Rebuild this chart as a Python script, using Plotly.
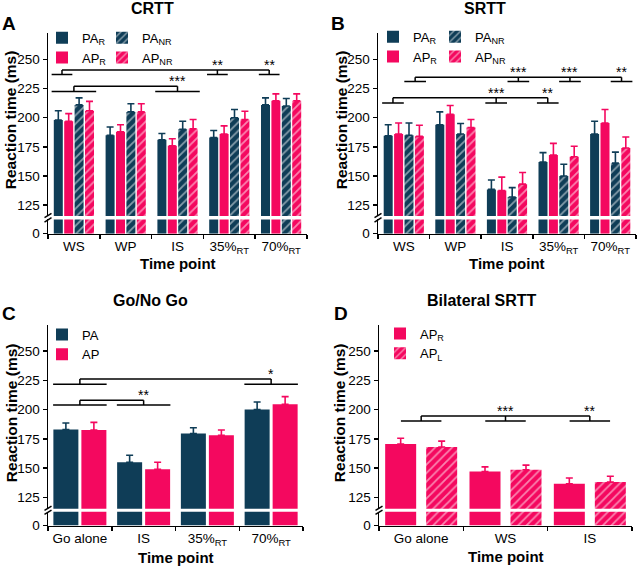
import plotly.graph_objects as go

W, H = 640, 573
FONT = "Liberation Sans, Arial, Helvetica, sans-serif"
NAVY = "#0f3d57"
PINK = "#f4085f"

# ---------------- data ----------------
# Panel A: CRTT
A_categories = ["WS", "WP", "IS", "35%<sub>RT</sub>", "70%<sub>RT</sub>"]
A_PA_R = [198, 185, 181, 183, 211]
A_PA_R_err = [8, 7, 5.5, 6, 6]
A_AP_R = [197, 188, 176, 186, 214.5]
A_AP_R_err = [6.5, 6, 6, 7, 6]
A_PA_NR = [211, 205, 190, 200, 210]
A_PA_NR_err = [6, 7, 7, 7, 6.5]
A_AP_NR = [206, 205, 190.5, 198.5, 214.5]
A_AP_NR_err = [8, 7, 8, 7, 6]

# Panel B: SRTT
B_categories = ["WS", "WP", "IS", "35%<sub>RT</sub>", "70%<sub>RT</sub>"]
B_PA_R = [184.5, 194, 138.5, 162, 186]
B_PA_R_err = [9.5, 11, 8, 8, 11]
B_AP_R = [186, 203, 137.5, 168, 195.5]
B_AP_R_err = [9.5, 7.5, 11.5, 10, 11.5]
B_PA_NR = [185, 186, 132, 150, 161]
B_PA_NR_err = [10.5, 9, 8, 10, 9.5]
B_AP_NR = [184, 191.5, 143, 166.5, 174]
B_AP_NR_err = [9.5, 7, 10, 9, 9.5]

# Panel C: Go/No Go
C_categories = ["Go alone", "IS", "35%<sub>RT</sub>", "70%<sub>RT</sub>"]
C_PA = [183, 155, 179.5, 200]
C_PA_err = [5.5, 6, 5, 6.5]
C_AP = [182.5, 149, 178, 204.5]
C_AP_err = [6.5, 6, 4.5, 6.5]

# Panel D: Bilateral SRTT
D_categories = ["Go alone", "WS", "IS"]
D_AP_R = [170.5, 147, 136.5]
D_AP_R_err = [5, 4, 5]
D_AP_L = [168, 148.5, 138]
D_AP_L_err = [5, 4, 5]

upper_ticks = [125, 150, 175, 200, 225, 250]

# significance brackets: (top level, base level, part of group, groups, stars)
A_brackets = [
    (241, 237, "R", [0, 3, 4], {3: "**", 4: "**"}),
    (227, 222.5, "all", [0, 2], {2: "***"}),
]
B_brackets = [
    (234.7, 231, "NR", [0, 2, 3, 4], {2: "***", 3: "***", 4: "**"}),
    (217.2, 212.7, "R", [0, 2, 3], {2: "***", 3: "**"}),
]
C_brackets = [
    (226.1, 221.6, "all", [0, 3], {3: "*"}),
    (208, 203.8, "all", [0, 1], {1: "**"}),
]
D_brackets = [
    (194.5, 190.3, "all", [0, 1, 2], {1: "***", 2: "**"}),
]

PANELS = [
    dict(letter="A", title="CRTT", cats=A_categories,
         series=[("PA<sub>R</sub>", A_PA_R, A_PA_R_err, NAVY, False, "legend"),
                 ("AP<sub>R</sub>", A_AP_R, A_AP_R_err, PINK, False, "legend"),
                 ("PA<sub>NR</sub>", A_PA_NR, A_PA_NR_err, NAVY, True, "legend2"),
                 ("AP<sub>NR</sub>", A_AP_NR, A_AP_NR_err, PINK, True, "legend2")],
         brackets=A_brackets,
         geo=dict(x0=48, x1=307, top=33, ub=219, lt=222.5, bot=237, yr=(115.7, 273.1)),
         bar=dict(pitch=10.4, width=9.0),
         parts={"all": (0.0, 0.43), "R": (-0.23, 0.2), "NR": (0.22, 0.2)},
         legends=[("legend", 42, 23), ("legend2", 102, 23)],
         title_pos=(152, 9), letter_pos=(9, 24), ytitle_x=10, xtitle_y=267),
    dict(letter="B", title="SRTT", cats=B_categories,
         series=[("PA<sub>R</sub>", B_PA_R, B_PA_R_err, NAVY, False, "legend3"),
                 ("AP<sub>R</sub>", B_AP_R, B_AP_R_err, PINK, False, "legend3"),
                 ("PA<sub>NR</sub>", B_PA_NR, B_PA_NR_err, NAVY, True, "legend4"),
                 ("AP<sub>NR</sub>", B_AP_NR, B_AP_NR_err, PINK, True, "legend4")],
         brackets=B_brackets,
         geo=dict(x0=378, x1=636, top=33, ub=219, lt=222.5, bot=237, yr=(115.7, 273.1)),
         bar=dict(pitch=10.4, width=9.0),
         parts={"all": (0.0, 0.43), "R": (-0.21, 0.21), "NR": (0.22, 0.21)},
         legends=[("legend3", 373, 22), ("legend4", 435, 22)],
         title_pos=(485, 9), letter_pos=(338, 24), ytitle_x=341, xtitle_y=267),
    dict(letter="C", title="Go/No Go", cats=C_categories,
         series=[("PA", C_PA, C_PA_err, NAVY, False, "legend5"),
                 ("AP", C_AP, C_AP_err, PINK, False, "legend5")],
         brackets=C_brackets,
         geo=dict(x0=48, x1=303, top=330, ub=516, lt=519, bot=533, yr=(115.2, 271.9)),
         bar=dict(pitch=28.0, width=25.0),
         parts={"all": (0.0, 0.42)},
         legends=[("legend5", 42, 324)],
         title_pos=(150, 305), letter_pos=(9, 318), ytitle_x=11, xtitle_y=565),
    dict(letter="D", title="Bilateral SRTT", cats=D_categories,
         series=[("AP<sub>R</sub>", D_AP_R, D_AP_R_err, PINK, False, "legend6"),
                 ("AP<sub>L</sub>", D_AP_L, D_AP_L_err, PINK, True, "legend6")],
         brackets=D_brackets,
         geo=dict(x0=379, x1=632, top=330, ub=516, lt=519, bot=533, yr=(115.2, 271.9)),
         bar=dict(pitch=41.0, width=31.0),
         parts={"all": (0.0, 0.24)},
         legends=[("legend6", 380, 323)],
         title_pos=(482, 305), letter_pos=(341, 318), ytitle_x=339, xtitle_y=564),
]


def px2x(px):
    return px / W


def px2y(py):
    return 1 - py / H


def ref(prefix, i):
    return prefix if i == 1 else f"{prefix}{i}"


def note(x, y, text, size, **kw):
    d = dict(xref="paper", yref="paper", x=px2x(x), y=px2y(y), text=text,
             showarrow=False, xanchor="center", yanchor="middle",
             font=dict(size=size, family=FONT, color="black"))
    d.update(kw)
    return d


fig = go.Figure()
layout = dict(
    width=W, height=H, margin=dict(l=0, r=0, t=0, b=0),
    paper_bgcolor="white", plot_bgcolor="white",
    barmode="overlay", showlegend=True,
    font=dict(family=FONT, color="black", size=13.5),
)
shapes = []
annotations = []
LINE = dict(color="black", width=1.5)

for k, P in enumerate(PANELS):
    g = P["geo"]
    xi, ylo, yup = k + 1, 2 * k + 1, 2 * k + 2
    n = len(P["cats"])
    m = len(P["series"])
    cat_px = (g["x1"] - g["x0"]) / n
    pitch = P["bar"]["pitch"] / cat_px
    bw = P["bar"]["width"] / cat_px

    for i, (name, vals, errs, col, hatched, leg) in enumerate(P["series"]):
        offset = (i - (m - 1) / 2) * pitch - bw / 2
        pattern = (dict(shape="/", fgcolor="white", bgcolor=col, size=6, solidity=0.3)
                   if hatched else dict(shape=""))
        marker = dict(color=col, line=dict(width=0), pattern=pattern)
        fig.add_trace(go.Bar(
            x=P["cats"], y=vals, name=name, legend=leg, showlegend=True,
            xaxis=ref("x", xi), yaxis=ref("y", yup), width=bw, offset=offset,
            marker=marker,
            error_y=dict(type="data", array=errs, arrayminus=[0] * len(errs),
                         symmetric=False, color=col, thickness=1.6, width=3.5),
        ))
        fig.add_trace(go.Bar(
            x=P["cats"], y=vals, name=name, showlegend=False,
            xaxis=ref("x", xi), yaxis=ref("y", ylo), width=bw, offset=offset,
            marker=marker,
        ))

    layout[ref("xaxis", xi)] = dict(
        domain=[px2x(g["x0"]), px2x(g["x1"])], anchor=ref("y", ylo),
        type="category", range=[-0.5, n - 0.5], showline=True,
        linecolor="black", linewidth=1.5, ticks="outside", ticklen=4,
        tickwidth=1.5, tickcolor="black", tickson="boundaries", tickangle=0,
        showgrid=False, zeroline=False, fixedrange=True,
        tickfont=dict(size=13.5, family=FONT, color="black"),
    )
    layout[ref("yaxis", ylo)] = dict(
        domain=[px2y(g["bot"]), px2y(g["lt"])], anchor=ref("x", xi),
        range=[0, 10], tickmode="array", tickvals=[0], showline=True,
        linecolor="black", linewidth=1.5, ticks="outside", ticklen=4,
        tickwidth=1.5, tickcolor="black", showgrid=False, zeroline=False,
        fixedrange=True, tickfont=dict(size=13.5, family=FONT, color="black"),
    )
    layout[ref("yaxis", yup)] = dict(
        domain=[px2y(g["ub"]), px2y(g["top"])], anchor=ref("x", xi),
        range=list(g["yr"]), tickmode="array", tickvals=upper_ticks,
        showline=True, linecolor="black", linewidth=1.5, ticks="outside",
        ticklen=4, tickwidth=1.5, tickcolor="black", showgrid=False,
        zeroline=False, fixedrange=True,
        tickfont=dict(size=13.5, family=FONT, color="black"),
    )

    for leg, lx, ly in P["legends"]:
        layout[leg] = dict(
            x=px2x(lx), y=px2y(ly), xanchor="left", yanchor="top",
            xref="paper", yref="paper", bgcolor="rgba(0,0,0,0)",
            orientation="v", tracegroupgap=0,
            font=dict(size=13, family=FONT, color="black"),
        )

    # significance brackets
    xr, yr = ref("x", xi), ref("y", yup)
    for top, base, part, groups, stars in P["brackets"]:
        pc, ph = P["parts"][part]
        shapes.append(dict(type="line", xref=xr, yref=yr, x0=groups[0] + pc,
                           x1=groups[-1] + pc, y0=top, y1=top, line=LINE))
        for gi in groups:
            shapes.append(dict(type="line", xref=xr, yref=yr, x0=gi + pc - ph,
                               x1=gi + pc + ph, y0=base, y1=base, line=LINE))
            shapes.append(dict(type="line", xref=xr, yref=yr, x0=gi + pc,
                               x1=gi + pc, y0=base, y1=top, line=LINE))
        for gi, s in stars.items():
            annotations.append(dict(xref=xr, yref=yr, x=gi + pc, y=top, text=s,
                                    showarrow=False, xanchor="center",
                                    yanchor="bottom", yshift=-5,
                                    font=dict(size=14, family=FONT, color="black")))

    # axis break marks
    for yc in (g["ub"] - 0.5, g["lt"] + 0.5):
        shapes.append(dict(type="line", xref="paper", yref="paper",
                           x0=px2x(g["x0"] - 3.5), y0=px2y(yc + 2.2),
                           x1=px2x(g["x0"] + 3.5), y1=px2y(yc - 2.2), line=LINE))

    # titles
    tx, ty = P["title_pos"]
    annotations.append(note(tx, ty, f"<b>{P['title']}</b>", 16))
    lx, ly = P["letter_pos"]
    annotations.append(note(lx, ly, f"<b>{P['letter']}</b>", 19))
    annotations.append(note(P["ytitle_x"], (g["top"] + g["ub"]) / 2 - 4,
                            "<b>Reaction time (ms)</b>", 15.5, textangle=-90))
    annotations.append(note((g["x0"] + g["x1"]) / 2, P["xtitle_y"],
                            "<b>Time point</b>", 15))

layout["shapes"] = shapes
layout["annotations"] = annotations
fig.update_layout(**layout)
fig.write_html("out.html",
               config={"displayModeBar": False, "staticPlot": True},
               post_script="document.body.style.margin='0';"
                           "document.body.style.overflow='hidden';")
